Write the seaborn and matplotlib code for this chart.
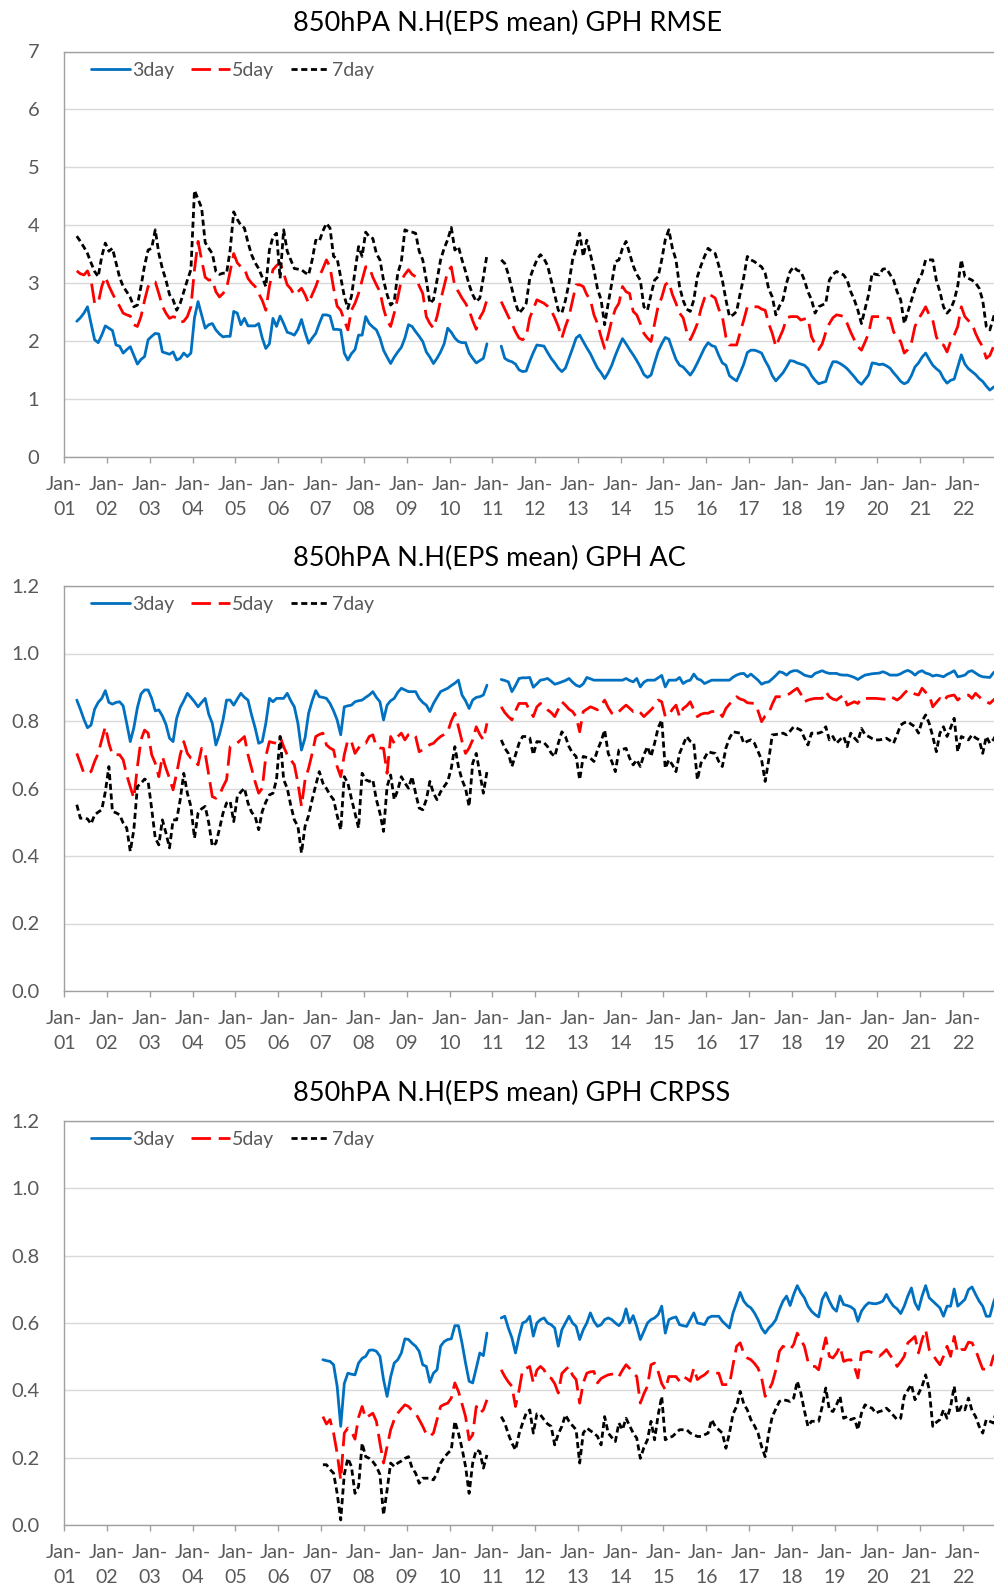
import numpy as np
import pandas as pd
import seaborn as sns
import matplotlib.pyplot as plt
from matplotlib.ticker import FormatStrFormatter

# %%
leads = ["3day", "5day", "7day"]
tick_years = list(range(1, 23))

# monthly values: block a = Apr-2001..Nov-2010, block b = Mar-2011..Oct-2022
rmse_3day_a = [
    2.34, 2.40, 2.48, 2.59, 2.30, 2.02, 1.97, 2.10, 2.26,
    2.22, 2.18, 1.93, 1.91, 1.79, 1.85, 1.90, 1.75, 1.60, 1.68, 1.73, 2.02,
    2.08, 2.13, 2.12, 1.81, 1.79, 1.77, 1.81, 1.67, 1.70, 1.79, 1.73, 1.79,
    2.40, 2.68, 2.45, 2.22, 2.28, 2.30, 2.19, 2.12, 2.07, 2.08, 2.08, 2.51,
    2.48, 2.28, 2.39, 2.26, 2.26, 2.26, 2.30, 2.05, 1.87, 1.95, 2.39, 2.25,
    2.43, 2.30, 2.15, 2.13, 2.10, 2.20, 2.37, 2.15, 1.96, 2.05, 2.13, 2.30,
    2.45, 2.45, 2.43, 2.20, 2.20, 2.19, 1.79, 1.67, 1.78, 1.85, 2.10, 2.10,
    2.42, 2.30, 2.24, 2.19, 2.05, 1.84, 1.72, 1.61, 1.72, 1.81, 1.89, 2.05,
    2.28, 2.25, 2.16, 2.08, 1.99, 1.81, 1.72, 1.61, 1.70, 1.81, 1.95, 2.22,
    2.15, 2.05, 1.99, 1.97, 1.97, 1.79, 1.70, 1.62, 1.66, 1.70, 1.95,
]
rmse_3day_b = [
    1.91, 1.70, 1.66, 1.64, 1.60, 1.50, 1.47, 1.48, 1.65, 1.80,
    1.93, 1.92, 1.91, 1.80, 1.70, 1.62, 1.53, 1.47, 1.53, 1.70, 1.87, 2.05,
    2.10, 1.99, 1.88, 1.78, 1.65, 1.53, 1.45, 1.35, 1.45, 1.58, 1.75, 1.90,
    2.04, 1.95, 1.85, 1.76, 1.66, 1.55, 1.42, 1.37, 1.41, 1.62, 1.82, 1.95,
    2.06, 2.03, 1.85, 1.68, 1.58, 1.55, 1.48, 1.41, 1.50, 1.62, 1.75, 1.88,
    1.97, 1.92, 1.90, 1.75, 1.62, 1.58, 1.40, 1.35, 1.31, 1.45, 1.60, 1.80,
    1.84, 1.84, 1.82, 1.79, 1.66, 1.55, 1.40, 1.31, 1.38, 1.45, 1.55, 1.66,
    1.65, 1.62, 1.60, 1.58, 1.52, 1.40, 1.32, 1.26, 1.28, 1.30, 1.50, 1.64,
    1.64, 1.61, 1.57, 1.52, 1.45, 1.38, 1.30, 1.25, 1.33, 1.41, 1.62, 1.61,
    1.59, 1.60, 1.57, 1.53, 1.45, 1.38, 1.30, 1.26, 1.29, 1.40, 1.55, 1.62,
    1.72, 1.79, 1.68, 1.58, 1.52, 1.47, 1.35, 1.27, 1.32, 1.34, 1.55, 1.76,
    1.60, 1.52, 1.47, 1.42, 1.35, 1.30, 1.22, 1.15, 1.20, 1.24,
]
rmse_5day_a = [
    3.21, 3.16, 3.14, 3.21, 3.05, 2.65, 2.65, 2.94, 3.11,
    2.95, 2.82, 2.70, 2.60, 2.48, 2.45, 2.43, 2.28, 2.25, 2.42, 2.70, 2.94,
    3.02, 3.02, 2.82, 2.60, 2.48, 2.39, 2.42, 2.40, 2.32, 2.34, 2.42, 2.59,
    3.23, 3.72, 3.40, 3.10, 3.05, 3.06, 2.85, 2.76, 2.82, 2.91, 3.20, 3.51,
    3.35, 3.28, 3.25, 3.08, 3.00, 2.94, 2.82, 2.70, 2.53, 2.94, 3.23, 3.30,
    3.35, 3.17, 2.97, 2.90, 2.79, 2.85, 2.91, 2.80, 2.65, 2.80, 2.94, 3.11,
    3.25, 3.40, 3.28, 2.91, 2.60, 2.53, 2.36, 2.19, 2.53, 2.65, 2.82, 3.05,
    3.28, 3.28, 3.10, 2.97, 2.85, 2.56, 2.35, 2.25, 2.48, 2.75, 3.05, 3.15,
    3.23, 3.15, 3.11, 2.95, 2.82, 2.42, 2.30, 2.22, 2.42, 2.70, 2.95, 3.20,
    3.28, 2.94, 2.85, 2.74, 2.65, 2.53, 2.35, 2.20, 2.40, 2.51, 2.71,
]
rmse_5day_b = [
    2.68, 2.55, 2.42, 2.30, 2.16, 2.05, 2.02, 2.07, 2.40, 2.55,
    2.71, 2.68, 2.65, 2.60, 2.53, 2.40, 2.25, 2.05, 2.25, 2.42, 2.70, 2.97,
    2.97, 2.94, 2.80, 2.71, 2.45, 2.30, 2.07, 1.87, 2.10, 2.36, 2.55, 2.65,
    2.94, 2.85, 2.82, 2.51, 2.45, 2.30, 2.13, 2.05, 1.99, 2.30, 2.60, 2.75,
    2.97, 3.02, 2.80, 2.65, 2.48, 2.40, 2.16, 2.02, 2.15, 2.30, 2.55, 2.74,
    2.82, 2.78, 2.74, 2.55, 2.42, 2.07, 1.93, 1.93, 1.93, 2.15, 2.36, 2.59,
    2.59, 2.59, 2.59, 2.55, 2.53, 2.30, 2.13, 1.90, 2.05, 2.19, 2.39, 2.42,
    2.42, 2.42, 2.36, 2.38, 2.39, 2.07, 1.95, 1.85, 1.95, 2.15, 2.30, 2.40,
    2.45, 2.44, 2.42, 2.30, 2.15, 2.02, 1.90, 1.84, 1.98, 2.13, 2.42, 2.42,
    2.42, 2.42, 2.40, 2.39, 2.16, 2.05, 1.99, 1.79, 1.85, 1.96, 2.25, 2.38,
    2.48, 2.59, 2.45, 2.36, 2.07, 1.95, 1.93, 1.81, 1.99, 2.10, 2.25, 2.59,
    2.42, 2.35, 2.30, 2.13, 2.00, 1.90, 1.70, 1.75, 1.90, 1.99,
]
rmse_7day_a = [
    3.81, 3.72, 3.62, 3.51, 3.35, 3.20, 3.11, 3.46, 3.69,
    3.55, 3.60, 3.35, 3.10, 2.94, 2.85, 2.75, 2.59, 2.62, 2.94, 3.30, 3.57,
    3.60, 3.92, 3.51, 3.25, 3.05, 2.80, 2.71, 2.53, 2.65, 2.85, 3.05, 3.23,
    4.60, 4.45, 4.30, 3.70, 3.60, 3.51, 3.20, 3.15, 3.17, 3.17, 3.57, 4.23,
    4.10, 4.00, 3.95, 3.70, 3.49, 3.35, 3.25, 3.10, 2.94, 3.57, 3.80, 3.86,
    3.08, 3.92, 3.55, 3.40, 3.25, 3.24, 3.23, 3.18, 3.14, 3.40, 3.74, 3.72,
    3.90, 4.03, 3.95, 3.46, 3.42, 3.10, 2.77, 2.56, 2.77, 3.20, 3.63, 3.46,
    3.88, 3.80, 3.77, 3.51, 3.40, 3.05, 2.80, 2.62, 2.68, 3.17, 3.37, 3.92,
    3.89, 3.88, 3.86, 3.55, 3.40, 3.05, 2.65, 2.71, 3.05, 3.40, 3.60, 3.75,
    3.96, 3.57, 3.63, 3.40, 3.20, 2.97, 2.80, 2.68, 2.74, 3.10, 3.49,
]
rmse_7day_b = [
    3.40, 3.34, 3.15, 2.90, 2.65, 2.48, 2.55, 2.65, 3.08, 3.25,
    3.40, 3.49, 3.42, 3.30, 3.05, 2.80, 2.53, 2.48, 2.70, 3.00, 3.40, 3.60,
    3.86, 3.46, 3.74, 3.50, 3.23, 2.90, 2.71, 2.28, 2.65, 3.00, 3.37, 3.40,
    3.60, 3.72, 3.51, 3.30, 3.15, 3.05, 2.59, 2.53, 2.80, 3.05, 3.11, 3.40,
    3.75, 3.92, 3.60, 3.40, 2.94, 2.70, 2.55, 2.51, 2.71, 3.11, 3.30, 3.46,
    3.60, 3.55, 3.51, 3.30, 3.05, 2.71, 2.42, 2.45, 2.51, 2.82, 3.10, 3.46,
    3.40, 3.37, 3.32, 3.28, 3.17, 2.90, 2.76, 2.45, 2.60, 2.71, 3.00, 3.20,
    3.28, 3.22, 3.20, 3.05, 2.85, 2.71, 2.48, 2.59, 2.62, 2.65, 3.05, 3.15,
    3.20, 3.17, 3.14, 3.05, 2.85, 2.71, 2.53, 2.30, 2.55, 2.80, 3.17, 3.15,
    3.14, 3.24, 3.25, 3.15, 3.05, 2.85, 2.71, 2.30, 2.50, 2.70, 2.90, 3.05,
    3.17, 3.40, 3.40, 3.40, 3.05, 2.85, 2.59, 2.48, 2.55, 2.70, 2.95, 3.40,
    3.11, 3.08, 3.05, 3.00, 2.91, 2.70, 2.25, 2.19, 2.40, 2.65,
]

ac_3day_a = [
    0.862, 0.835, 0.805, 0.780, 0.788, 0.835, 0.855, 0.867, 0.890,
    0.855, 0.850, 0.855, 0.857, 0.845, 0.793, 0.739, 0.780, 0.840, 0.880, 0.892, 0.892,
    0.867, 0.830, 0.833, 0.815, 0.790, 0.749, 0.739, 0.808, 0.840, 0.860, 0.882, 0.870,
    0.857, 0.842, 0.855, 0.867, 0.820, 0.793, 0.729, 0.760, 0.803, 0.862, 0.862, 0.847,
    0.865, 0.882, 0.870, 0.862, 0.818, 0.780, 0.734, 0.739, 0.793, 0.867, 0.857, 0.867,
    0.867, 0.867, 0.882, 0.860, 0.842, 0.793, 0.714, 0.750, 0.823, 0.860, 0.890, 0.872,
    0.870, 0.867, 0.852, 0.830, 0.803, 0.759, 0.842, 0.845, 0.847, 0.857, 0.860, 0.862,
    0.870, 0.877, 0.887, 0.870, 0.857, 0.803, 0.847, 0.860, 0.867, 0.885, 0.897, 0.892,
    0.887, 0.887, 0.887, 0.867, 0.855, 0.847, 0.828, 0.852, 0.870, 0.887, 0.892, 0.897,
    0.905, 0.912, 0.921, 0.877, 0.860, 0.837, 0.862, 0.870, 0.872, 0.877, 0.906,
]
ac_3day_b = [
    0.923, 0.920, 0.916, 0.887, 0.905, 0.926, 0.928, 0.928, 0.929, 0.900,
    0.910, 0.921, 0.923, 0.926, 0.918, 0.909, 0.912, 0.916, 0.920, 0.926, 0.915, 0.906,
    0.902, 0.910, 0.929, 0.925, 0.921, 0.921, 0.921, 0.921, 0.921, 0.921, 0.921, 0.921,
    0.921, 0.926, 0.920, 0.916, 0.926, 0.901, 0.915, 0.921, 0.921, 0.921, 0.928, 0.935,
    0.901, 0.921, 0.921, 0.921, 0.929, 0.911, 0.918, 0.921, 0.939, 0.925, 0.921, 0.911,
    0.916, 0.921, 0.921, 0.921, 0.921, 0.921, 0.921, 0.930, 0.936, 0.940, 0.941, 0.931,
    0.939, 0.930, 0.921, 0.909, 0.914, 0.916, 0.925, 0.935, 0.946, 0.943, 0.936, 0.945,
    0.949, 0.949, 0.943, 0.936, 0.933, 0.931, 0.941, 0.945, 0.949, 0.944, 0.941, 0.941,
    0.941, 0.937, 0.936, 0.936, 0.933, 0.929, 0.923, 0.930, 0.936, 0.938, 0.940, 0.941,
    0.942, 0.946, 0.942, 0.936, 0.936, 0.936, 0.940, 0.946, 0.950, 0.945, 0.936, 0.945,
    0.949, 0.942, 0.939, 0.933, 0.936, 0.934, 0.931, 0.938, 0.943, 0.949, 0.931, 0.933,
    0.936, 0.946, 0.949, 0.942, 0.935, 0.931, 0.930, 0.929, 0.943, 0.951,
]
ac_5day_a = [
    0.704, 0.675, 0.645, 0.645, 0.650, 0.680, 0.704, 0.744, 0.783,
    0.734, 0.700, 0.700, 0.700, 0.685, 0.640, 0.605, 0.571, 0.665, 0.744, 0.773, 0.764,
    0.700, 0.675, 0.635, 0.695, 0.660, 0.630, 0.596, 0.645, 0.700, 0.739, 0.704, 0.690,
    0.685, 0.670, 0.719, 0.704, 0.640, 0.576, 0.571, 0.581, 0.605, 0.626, 0.724, 0.729,
    0.735, 0.744, 0.754, 0.700, 0.660, 0.620, 0.586, 0.601, 0.695, 0.739, 0.736, 0.734,
    0.754, 0.724, 0.700, 0.685, 0.670, 0.616, 0.547, 0.626, 0.660, 0.704, 0.754, 0.760,
    0.764, 0.729, 0.720, 0.714, 0.665, 0.635, 0.700, 0.744, 0.739, 0.704, 0.720, 0.734,
    0.734, 0.754, 0.759, 0.724, 0.720, 0.719, 0.645, 0.754, 0.734, 0.754, 0.764, 0.744,
    0.760, 0.764, 0.754, 0.709, 0.715, 0.724, 0.730, 0.734, 0.745, 0.754, 0.760, 0.768,
    0.800, 0.823, 0.783, 0.740, 0.704, 0.720, 0.744, 0.783, 0.760, 0.744, 0.793,
]
ac_5day_b = [
    0.842, 0.825, 0.813, 0.803, 0.830, 0.852, 0.852, 0.852, 0.830, 0.813,
    0.842, 0.852, 0.845, 0.833, 0.825, 0.813, 0.835, 0.857, 0.847, 0.835, 0.828, 0.813,
    0.768, 0.828, 0.835, 0.842, 0.838, 0.833, 0.847, 0.862, 0.840, 0.823, 0.818, 0.828,
    0.838, 0.847, 0.838, 0.828, 0.833, 0.825, 0.813, 0.823, 0.833, 0.845, 0.862, 0.857,
    0.813, 0.818, 0.835, 0.847, 0.813, 0.837, 0.845, 0.857, 0.833, 0.813, 0.820, 0.823,
    0.823, 0.828, 0.828, 0.828, 0.813, 0.837, 0.850, 0.862, 0.872, 0.865, 0.862, 0.854,
    0.853, 0.852, 0.830, 0.798, 0.815, 0.823, 0.850, 0.872, 0.872, 0.872, 0.875, 0.882,
    0.890, 0.897, 0.880, 0.857, 0.862, 0.865, 0.867, 0.867, 0.867, 0.887, 0.872, 0.865,
    0.862, 0.870, 0.877, 0.847, 0.852, 0.857, 0.852, 0.867, 0.867, 0.867, 0.867, 0.867,
    0.866, 0.865, 0.864, 0.872, 0.868, 0.862, 0.870, 0.882, 0.892, 0.885, 0.880, 0.877,
    0.897, 0.885, 0.877, 0.842, 0.855, 0.867, 0.857, 0.872, 0.875, 0.877, 0.862, 0.872,
    0.875, 0.877, 0.867, 0.882, 0.872, 0.862, 0.857, 0.852, 0.862, 0.872,
]
ac_7day_a = [
    0.552, 0.512, 0.512, 0.510, 0.495, 0.522, 0.530, 0.537, 0.590,
    0.665, 0.532, 0.528, 0.522, 0.498, 0.483, 0.414, 0.478, 0.606, 0.615, 0.628, 0.621,
    0.540, 0.453, 0.433, 0.507, 0.468, 0.424, 0.507, 0.507, 0.567, 0.645, 0.586, 0.547,
    0.453, 0.527, 0.540, 0.547, 0.498, 0.429, 0.438, 0.480, 0.527, 0.557, 0.562, 0.502,
    0.576, 0.590, 0.601, 0.557, 0.530, 0.517, 0.478, 0.532, 0.560, 0.581, 0.586, 0.626,
    0.754, 0.626, 0.601, 0.550, 0.507, 0.488, 0.409, 0.488, 0.520, 0.567, 0.610, 0.650,
    0.616, 0.600, 0.581, 0.567, 0.520, 0.478, 0.635, 0.616, 0.570, 0.527, 0.483, 0.645,
    0.626, 0.621, 0.626, 0.567, 0.527, 0.473, 0.606, 0.640, 0.567, 0.596, 0.635, 0.616,
    0.601, 0.635, 0.586, 0.542, 0.537, 0.567, 0.621, 0.586, 0.567, 0.590, 0.606, 0.621,
    0.660, 0.724, 0.665, 0.626, 0.600, 0.547, 0.675, 0.704, 0.645, 0.586, 0.650,
]
ac_7day_b = [
    0.744, 0.720, 0.704, 0.665, 0.700, 0.734, 0.754, 0.754, 0.750, 0.700,
    0.739, 0.738, 0.736, 0.724, 0.705, 0.695, 0.734, 0.768, 0.754, 0.724, 0.705, 0.695,
    0.626, 0.695, 0.692, 0.690, 0.680, 0.714, 0.740, 0.773, 0.704, 0.680, 0.650, 0.714,
    0.716, 0.719, 0.690, 0.670, 0.685, 0.665, 0.700, 0.724, 0.695, 0.734, 0.780, 0.803,
    0.660, 0.685, 0.670, 0.650, 0.704, 0.729, 0.754, 0.740, 0.734, 0.626, 0.675, 0.690,
    0.709, 0.706, 0.704, 0.680, 0.665, 0.720, 0.749, 0.768, 0.766, 0.764, 0.734, 0.740,
    0.744, 0.734, 0.710, 0.685, 0.621, 0.685, 0.759, 0.760, 0.762, 0.764, 0.759, 0.770,
    0.783, 0.778, 0.773, 0.750, 0.729, 0.764, 0.764, 0.764, 0.768, 0.783, 0.744, 0.754,
    0.734, 0.745, 0.754, 0.724, 0.764, 0.750, 0.739, 0.778, 0.760, 0.754, 0.748, 0.744,
    0.744, 0.746, 0.749, 0.742, 0.734, 0.760, 0.788, 0.795, 0.798, 0.790, 0.783, 0.764,
    0.800, 0.818, 0.793, 0.754, 0.709, 0.764, 0.783, 0.754, 0.780, 0.808, 0.709, 0.754,
    0.749, 0.744, 0.759, 0.750, 0.744, 0.704, 0.754, 0.734, 0.745, 0.764,
]

# CRPSS starts Jan-2007 (block a = Jan-2007..Nov-2010)
crpss_3day_a = [
    0.491, 0.488, 0.486, 0.476, 0.412, 0.293, 0.420, 0.451, 0.448, 0.446, 0.481, 0.495,
    0.501, 0.519, 0.520, 0.516, 0.501, 0.432, 0.382, 0.440, 0.481, 0.491, 0.511, 0.553,
    0.551, 0.540, 0.531, 0.516, 0.476, 0.471, 0.424, 0.451, 0.461, 0.531, 0.545, 0.551,
    0.553, 0.592, 0.592, 0.541, 0.481, 0.427, 0.422, 0.466, 0.511, 0.503, 0.570,
]
crpss_3day_b = [
    0.615, 0.620, 0.585, 0.556, 0.511, 0.560, 0.600, 0.605, 0.620, 0.561,
    0.600, 0.610, 0.615, 0.600, 0.595, 0.585, 0.531, 0.580, 0.600, 0.620, 0.600, 0.590,
    0.551, 0.580, 0.600, 0.630, 0.605, 0.590, 0.595, 0.610, 0.615, 0.610, 0.600, 0.592,
    0.605, 0.642, 0.600, 0.622, 0.590, 0.551, 0.575, 0.600, 0.610, 0.615, 0.625, 0.650,
    0.570, 0.610, 0.615, 0.618, 0.595, 0.592, 0.590, 0.610, 0.630, 0.600, 0.598, 0.595,
    0.615, 0.620, 0.620, 0.620, 0.605, 0.595, 0.585, 0.630, 0.660, 0.691, 0.665, 0.652,
    0.645, 0.630, 0.610, 0.585, 0.570, 0.585, 0.595, 0.610, 0.640, 0.665, 0.680, 0.652,
    0.685, 0.711, 0.690, 0.675, 0.650, 0.635, 0.625, 0.618, 0.670, 0.690, 0.665, 0.645,
    0.635, 0.680, 0.655, 0.652, 0.648, 0.640, 0.605, 0.635, 0.650, 0.660, 0.658, 0.657,
    0.660, 0.665, 0.685, 0.665, 0.650, 0.642, 0.628, 0.650, 0.680, 0.704, 0.660, 0.640,
    0.680, 0.711, 0.675, 0.665, 0.655, 0.645, 0.620, 0.650, 0.650, 0.701, 0.650, 0.660,
    0.670, 0.699, 0.707, 0.685, 0.665, 0.650, 0.620, 0.620, 0.660, 0.690,
]
crpss_5day_a = [
    0.322, 0.300, 0.313, 0.273, 0.213, 0.134, 0.273, 0.288, 0.278, 0.255, 0.320, 0.352,
    0.317, 0.325, 0.332, 0.308, 0.243, 0.184, 0.233, 0.283, 0.313, 0.332, 0.345, 0.357,
    0.352, 0.340, 0.332, 0.313, 0.293, 0.270, 0.263, 0.273, 0.313, 0.352, 0.358, 0.362,
    0.377, 0.422, 0.397, 0.360, 0.322, 0.253, 0.268, 0.352, 0.332, 0.342, 0.372,
]
crpss_5day_b = [
    0.461, 0.441, 0.425, 0.412, 0.352, 0.400, 0.461, 0.465, 0.471, 0.422,
    0.460, 0.471, 0.461, 0.440, 0.436, 0.420, 0.392, 0.450, 0.461, 0.471, 0.445, 0.432,
    0.362, 0.422, 0.451, 0.455, 0.456, 0.422, 0.435, 0.441, 0.446, 0.448, 0.451, 0.441,
    0.460, 0.476, 0.465, 0.451, 0.441, 0.362, 0.390, 0.412, 0.476, 0.481, 0.456, 0.420,
    0.402, 0.441, 0.441, 0.441, 0.427, 0.441, 0.435, 0.427, 0.466, 0.432, 0.440, 0.446,
    0.456, 0.451, 0.451, 0.451, 0.417, 0.417, 0.417, 0.476, 0.531, 0.541, 0.510, 0.496,
    0.491, 0.480, 0.466, 0.437, 0.382, 0.400, 0.422, 0.461, 0.516, 0.531, 0.525, 0.521,
    0.536, 0.570, 0.550, 0.531, 0.486, 0.471, 0.471, 0.461, 0.511, 0.556, 0.501, 0.496,
    0.510, 0.531, 0.486, 0.490, 0.491, 0.471, 0.437, 0.511, 0.514, 0.516, 0.512, 0.509,
    0.501, 0.510, 0.521, 0.505, 0.491, 0.471, 0.485, 0.501, 0.541, 0.550, 0.560, 0.511,
    0.551, 0.580, 0.521, 0.506, 0.490, 0.476, 0.501, 0.531, 0.501, 0.560, 0.511, 0.521,
    0.521, 0.543, 0.541, 0.520, 0.491, 0.463, 0.463, 0.463, 0.501, 0.511,
]
crpss_7day_a = [
    0.179, 0.179, 0.165, 0.154, 0.094, 0.015, 0.150, 0.198, 0.174, 0.094, 0.114, 0.243,
    0.203, 0.198, 0.188, 0.174, 0.150, 0.030, 0.104, 0.184, 0.174, 0.184, 0.190, 0.198,
    0.203, 0.170, 0.154, 0.124, 0.139, 0.139, 0.139, 0.134, 0.154, 0.184, 0.200, 0.213,
    0.223, 0.308, 0.273, 0.228, 0.174, 0.094, 0.184, 0.223, 0.218, 0.169, 0.208,
]
crpss_7day_b = [
    0.322, 0.303, 0.270, 0.243, 0.223, 0.270, 0.303, 0.332, 0.342, 0.273,
    0.330, 0.327, 0.313, 0.300, 0.293, 0.238, 0.270, 0.293, 0.327, 0.308, 0.295, 0.283,
    0.184, 0.273, 0.288, 0.280, 0.273, 0.263, 0.238, 0.322, 0.273, 0.260, 0.248, 0.303,
    0.283, 0.317, 0.295, 0.273, 0.258, 0.198, 0.230, 0.253, 0.308, 0.253, 0.327, 0.382,
    0.253, 0.260, 0.263, 0.273, 0.283, 0.283, 0.283, 0.273, 0.268, 0.263, 0.263, 0.268,
    0.273, 0.313, 0.293, 0.283, 0.273, 0.228, 0.273, 0.330, 0.352, 0.397, 0.360, 0.342,
    0.313, 0.295, 0.273, 0.233, 0.203, 0.273, 0.322, 0.345, 0.367, 0.372, 0.370, 0.367,
    0.377, 0.427, 0.392, 0.340, 0.293, 0.308, 0.308, 0.308, 0.352, 0.407, 0.342, 0.337,
    0.357, 0.382, 0.317, 0.322, 0.313, 0.317, 0.283, 0.332, 0.357, 0.350, 0.347, 0.332,
    0.337, 0.340, 0.347, 0.337, 0.325, 0.313, 0.317, 0.382, 0.400, 0.417, 0.372, 0.390,
    0.412, 0.446, 0.402, 0.293, 0.305, 0.313, 0.342, 0.317, 0.352, 0.412, 0.332, 0.352,
    0.342, 0.377, 0.340, 0.322, 0.293, 0.273, 0.313, 0.308, 0.303, 0.352,
]

# %%
panels = [
    ("850hPA N.H(EPS mean) GPH RMSE", "2001-04",
     [rmse_3day_a, rmse_5day_a, rmse_7day_a], [rmse_3day_b, rmse_5day_b, rmse_7day_b]),
    ("850hPA N.H(EPS mean) GPH AC", "2001-04",
     [ac_3day_a, ac_5day_a, ac_7day_a], [ac_3day_b, ac_5day_b, ac_7day_b]),
    ("850hPA N.H(EPS mean) GPH CRPSS", "2007-01",
     [crpss_3day_a, crpss_5day_a, crpss_7day_a], [crpss_3day_b, crpss_5day_b, crpss_7day_b]),
]
start_b = "2011-03"

frames = []
for title, start_a, block_a, block_b in panels:
    for lead, va, vb in zip(leads, block_a, block_b):
        for seg, (start, vals) in enumerate([(start_a, va), (start_b, vb)]):
            d = pd.date_range(start, periods=len(vals), freq="MS")
            frames.append(pd.DataFrame({
                "panel": title, "lead": lead, "seg": seg,
                "x": (d.year - 2001) * 12 + d.month - 0.5,
                "value": vals,
            }))
df = pd.concat(frames, ignore_index=True)

# %%
sns.set_style("white")
plt.rcParams["font.family"] = ["Lato", "DejaVu Sans"]

W, H = 995, 1586
x0 = 64.3
px_month = 42.8 / 12
xmax = 265
boxes = [(51.5, 456.7), (586.0, 991.0), (1121.0, 1525.0)]
ylims = [(7, 1, "%d"), (1.2, 0.2, "%.1f"), (1.2, 0.2, "%.1f")]

palette = {"3day": "#0070C0", "5day": "#FF0000", "7day": "#000000"}
dashes = {"3day": "", "5day": (7, 2.8), "7day": (2.2, 1.3)}
grey_txt = "#595959"
grey_line = "#A0A0A0"

fig = plt.figure(figsize=(W / 100, H / 100), dpi=100)
for (title, _, _, _), (top, bottom), (ymax, ystep, fmt) in zip(panels, boxes, ylims):
    ax = fig.add_axes([x0 / W, 1 - bottom / H, xmax * px_month / W, (bottom - top) / H])
    sns.lineplot(
        data=df[df["panel"] == title], x="x", y="value",
        hue="lead", style="lead", units="seg", estimator=None,
        hue_order=leads, style_order=leads,
        palette=palette, dashes=dashes, linewidth=2.0, ax=ax,
    )
    ax.set_xlim(0, xmax)
    ax.set_ylim(0, ymax)
    ax.set_yticks(np.arange(0, ymax + ystep / 2, ystep))
    ax.yaxis.set_major_formatter(FormatStrFormatter(fmt))
    ax.set_xticks([12 * (y - 1) for y in tick_years])
    ax.set_xticklabels([f"Jan-\n{y:02d}" for y in tick_years])
    ax.set_xlabel("")
    ax.set_ylabel("")
    ax.grid(False)
    ax.yaxis.grid(True, color="#D9D9D9", linewidth=1.0)
    ax.set_axisbelow(True)
    for side in ["left", "top", "bottom"]:
        ax.spines[side].set_color(grey_line)
        ax.spines[side].set_linewidth(1.0)
    ax.spines["right"].set_visible(False)
    ax.tick_params(axis="x", bottom=True, length=4, width=1.0, color=grey_line,
                   direction="out", pad=10, labelsize=14, labelcolor=grey_txt)
    ax.tick_params(axis="y", left=False, length=0, pad=18, labelsize=14.5,
                   labelcolor=grey_txt)
    for t in ax.get_xticklabels():
        t.set_linespacing(1.55)

    sns.move_legend(
        ax, "center left", bbox_to_anchor=(0.028, 0.954), ncol=3, title=None,
        frameon=False, fontsize=14, handlelength=2.0, handletextpad=0.12,
        columnspacing=0.85, borderpad=0, borderaxespad=0, labelcolor=grey_txt,
    )
    for h in ax.get_legend().legend_handles:
        h.set_linewidth(2.0)

    fig.text(293 / W, 1 - (top - 20) / H, title, ha="left", va="baseline",
             fontsize=19.5, color="black")

fig.savefig("out.png", dpi=100)
